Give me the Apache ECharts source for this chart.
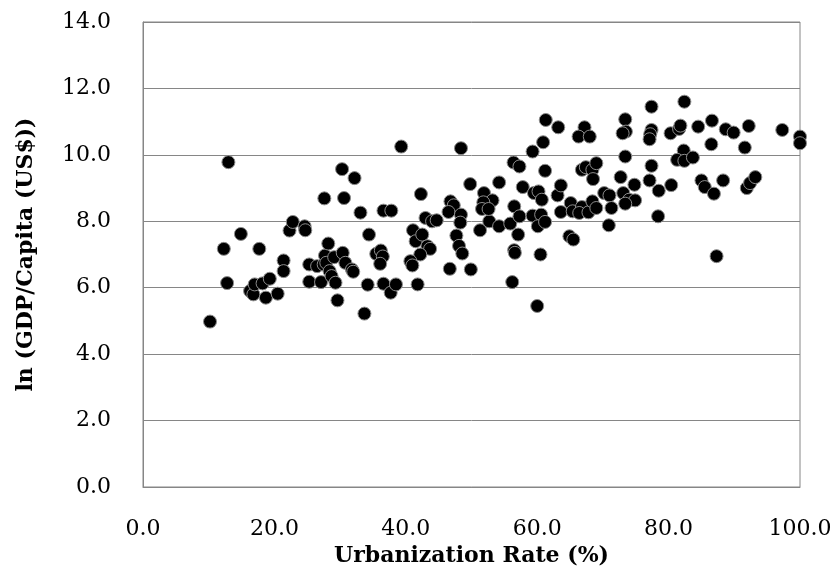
<!DOCTYPE html>
<html>
<head>
<meta charset="utf-8">
<script src="https://cdn.jsdelivr.net/npm/echarts@6/dist/echarts.min.js"></script>
<style>
  html, body { margin: 0; padding: 0; background: #fff; }
  #chart { width: 832px; height: 569px; }
</style>
</head>
<body>
<div id="chart"></div>
<script>
// urbanization rate (%) and ln GDP per capita, one pair per country
const urbanization = [
  10.2, 12.8, 12.3, 13.0, 14.9, 16.3, 16.8, 17.0, 17.7, 18.2, 18.7, 19.3, 20.5, 21.4, 21.4,
  22.3, 22.8, 24.6, 24.7, 25.3, 25.3, 26.5, 27.1, 27.5, 27.6, 27.7, 27.9, 28.2, 28.4, 28.7,
  29.1, 29.3, 29.6, 30.3, 30.4, 30.6, 30.8, 31.8, 32.0, 32.2, 33.1, 33.7, 34.2, 34.4, 35.5,
  36.2, 36.5, 36.1, 36.6, 36.6, 37.7, 37.8, 38.5, 39.3,
  41.1, 41.5, 42.5, 43.3, 43.7, 42.2, 40.7, 41.0, 41.8, 42.3, 43.0, 44.0, 44.7,
  46.8, 47.3, 46.5, 48.4, 48.3, 47.7, 48.1, 48.6, 46.7, 49.9, 48.4, 49.8,
  51.3, 52.7, 54.2, 55.9, 57.1, 51.9, 53.2, 51.8, 51.6, 52.6, 54.2,
  56.5, 57.3, 59.3, 60.6, 60.1, 61.2, 56.5, 56.6, 60.5, 56.2, 60.0,
  57.8, 59.5, 60.2, 60.7, 63.1, 63.6, 56.4, 57.3, 61.2,
  59.3, 60.9, 61.3, 63.2, 67.2, 66.3, 68.0,
  63.6, 65.1, 65.4, 66.8, 66.4, 67.8, 68.4, 69.0, 64.9, 65.5,
  66.8, 67.4, 68.4, 69.0, 68.5,
  82.4, 77.4, 73.4, 73.5, 73.0, 77.4, 77.2, 77.1, 80.3, 81.6, 81.8, 84.5, 86.6, 88.7, 89.9,
  92.2, 97.3, 100.0, 100.0, 86.5, 91.6, 73.4, 82.3, 81.3, 82.4, 83.7, 77.4, 72.7, 74.8, 73.1,
  74.0, 74.9, 73.4, 70.2, 71.0, 71.3, 70.9, 77.1, 78.5, 80.4, 78.4, 85.0, 85.5, 86.9, 88.3,
  91.9, 92.4, 93.2, 87.3
];
const lnGdpPerCapita = [
  4.98, 6.14, 7.17, 9.78, 7.62, 5.90, 5.80, 6.10, 7.17, 6.13, 5.70, 6.27, 5.82, 6.82, 6.50,
  7.72, 7.98, 7.85, 7.73, 6.70, 6.18, 6.65, 6.17, 6.70, 8.69, 6.97, 6.75, 7.33, 6.50, 6.35,
  6.92, 6.15, 5.62, 9.57, 7.05, 8.70, 6.75, 6.55, 6.48, 9.30, 8.26, 5.22, 6.09, 7.60, 7.02,
  7.12, 6.94, 6.72, 6.12, 8.32, 5.85, 8.32, 6.10, 10.25,
  7.73, 7.40, 7.60, 7.25, 7.17, 7.00, 6.80, 6.67, 6.10, 8.82, 8.10, 8.00, 8.03,
  8.60, 8.48, 8.28, 8.20, 7.96, 7.57, 7.26, 7.03, 6.57, 6.55, 10.20, 9.12,
  7.73, 8.00, 7.85, 7.93, 7.60, 8.85, 8.63, 8.57, 8.37, 8.37, 9.17,
  8.45, 8.15, 8.17, 8.20, 7.85, 7.98, 7.13, 7.05, 7.00, 6.17, 5.45,
  9.03, 8.85, 8.90, 8.65, 8.78, 9.08, 9.77, 9.65, 9.52,
  10.10, 10.38, 11.05, 10.83, 10.83, 10.55, 10.55,
  8.28, 8.55, 8.30, 8.43, 8.25, 8.27, 8.60, 8.40, 7.55, 7.45,
  9.55, 9.63, 9.55, 9.75, 9.27,
  11.60, 11.45, 11.07, 10.70, 10.65, 10.75, 10.62, 10.47, 10.65, 10.78, 10.88, 10.85, 11.03, 10.77, 10.67,
  10.87, 10.75, 10.55, 10.35, 10.32, 10.22, 9.95, 10.13, 9.85, 9.82, 9.92, 9.67, 9.33, 9.10, 8.85,
  8.65, 8.63, 8.53, 8.85, 8.78, 8.40, 7.88, 9.23, 8.92, 9.09, 8.15, 9.23, 9.03, 8.83, 9.23,
  9.00, 9.15, 9.33, 6.95
];
const xTicks = [0, 20, 40, 60, 80, 100];
const yTicks = [0, 2, 4, 6, 8, 10, 12, 14];

const points = urbanization.map((u, i) => [u, lnGdpPerCapita[i]]);

const font = 'DejaVu Serif';
const chart = echarts.init(document.getElementById('chart'), null, { renderer: 'canvas' });

chart.setOption({
  backgroundColor: '#fff',
  animation: false,
  grid: {
    left: 143,
    right: 32,
    top: 22,
    bottom: 82,
    outerBoundsMode: 'none',
    show: true,
    borderColor: '#868686',
    borderWidth: 1
  },
  xAxis: {
    type: 'value',
    min: xTicks[0],
    max: xTicks[xTicks.length - 1],
    interval: xTicks[1] - xTicks[0],
    name: 'Urbanization Rate (%)',
    nameLocation: 'middle',
    nameGap: 57,
    nameTextStyle: { fontFamily: font, fontSize: 22, fontWeight: 'bold', color: '#000' },
    axisLine: { show: true, lineStyle: { color: '#868686', width: 1 } },
    axisTick: { show: false },
    splitLine: { show: false },
    axisLabel: {
      margin: 31,
      fontFamily: font,
      fontSize: 22,
      color: '#000',
      formatter: v => v.toFixed(1)
    }
  },
  yAxis: {
    type: 'value',
    min: yTicks[0],
    max: yTicks[yTicks.length - 1],
    interval: yTicks[1] - yTicks[0],
    name: 'ln (GDP/Capita (US$))',
    nameLocation: 'middle',
    nameGap: 106,
    nameTextStyle: { fontFamily: font, fontSize: 22, fontWeight: 'bold', color: '#000' },
    axisLine: { show: true, lineStyle: { color: '#868686', width: 1 } },
    axisTick: { show: false },
    splitLine: { show: true, lineStyle: { color: '#868686', width: 1 } },
    axisLabel: {
      margin: 32,
      fontFamily: font,
      fontSize: 22,
      color: '#000',
      formatter: v => v.toFixed(1)
    }
  },
  series: [
    {
      type: 'scatter',
      data: points,
      symbol: 'circle',
      symbolSize: 13,
      itemStyle: { color: '#000', borderColor: '#8c8c8c', borderWidth: 1, opacity: 1 }
    }
  ]
});
</script>
</body>
</html>
